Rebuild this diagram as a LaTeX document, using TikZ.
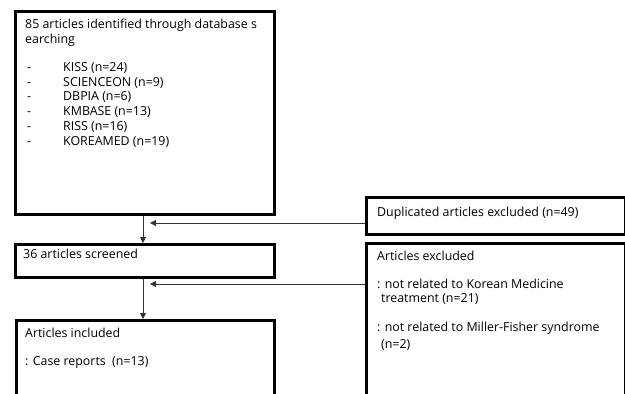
\documentclass[tikz,border=0pt]{standalone}
\usepackage{fontspec}
\setmainfont{Open Sans}
\usetikzlibrary{arrows.meta}
\begin{document}
\begin{tikzpicture}[x=1pt,y=-1pt,
  box/.style={draw=black,line width=2.8pt,inner sep=0pt,anchor=north west},
  txt/.style={anchor=base west,inner sep=0pt,font=\fontsize{12.4}{14}\selectfont},
  conn/.style={line width=0.9pt,draw=black!80,-{Triangle[length=6pt,width=6pt]}}]
\useasboundingbox (0,0) rectangle (625,394);
\clip (0,0) rectangle (625,394);
\fill[white] (0,0) rectangle (625,394);
% boxes
\node[box,minimum width=259pt,minimum height=203pt] (b1) at (14,10) {};
\node[box,minimum width=259pt,minimum height=33pt] (b2) at (14,243) {};
\node[box,minimum width=258pt,minimum height=90pt] (b3) at (15,319) {};
\node[box,minimum width=259pt,minimum height=37pt] (r1) at (365,196) {};
\node[box,minimum width=259pt,minimum height=170pt] (r2) at (365,242) {};
% texts
\node[txt] (t1a) at (25,28) {85 articles identified through database s};
\node[txt] (t1b) at (25,43) {earching};
\node[txt] (d1) at (27,71) {-};
\node[txt] (d2) at (27,86) {-};
\node[txt] (d3) at (27,100) {-};
\node[txt] (d4) at (27,115) {-};
\node[txt] (d5) at (27,130) {-};
\node[txt] (d6) at (27,145) {-};
\node[txt] (n1) at (63,71) {KISS (n=24)};
\node[txt] (n2) at (63,86) {SCIENCEON (n=9)};
\node[txt] (n3) at (63,100) {DBPIA (n=6)};
\node[txt] (n4) at (63,115) {KMBASE (n=13)};
\node[txt] (n5) at (63,130) {RISS (n=16)};
\node[txt] (n6) at (63,145) {KOREAMED (n=19)};
\node[txt] (t2) at (23,258) {36 articles screened};
\node[txt] (t3a) at (25,337) {Articles included};
\node[txt] (t3b) at (25,365) {: Case reports\ \ (n=13)};
\node[txt] (tr1) at (377,216) {Duplicated articles excluded (n=49)};
\node[txt] (tr2a) at (377,260) {Articles excluded};
\node[txt] (tr2b) at (377,288) {: not related to Korean Medicine};
\node[txt] (tr2c) at (381,302) {treatment (n=21)};
\node[txt] (tr2d) at (377,331) {: not related to Miller-Fisher syndrome};
\node[txt] (tr2e) at (381,348) {(n=2)};
% connectors
\coordinate (a1) at (150,223);
\coordinate (a2) at (150,284);
\draw[conn] (b1.south -| 143,0) -- (b2.north -| 143,0);
\draw[conn] (b2.south -| 143,0) -- (b3.north -| 143,0);
\draw[conn] (r1.west |- a1) -- (a1);
\draw[conn] (r2.west |- a2) -- (a2);
\end{tikzpicture}
\end{document}
